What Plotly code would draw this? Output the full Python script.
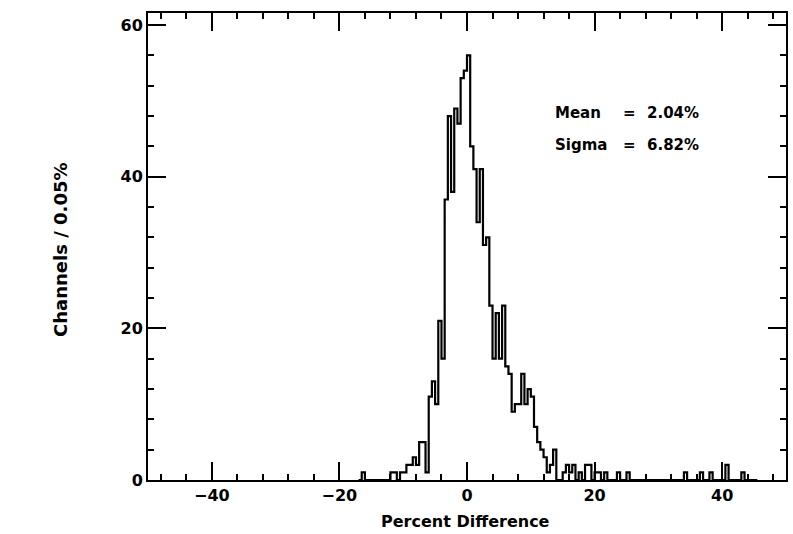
import numpy as np
import plotly.graph_objects as go

# ---------------- data ----------------
bin_width = 0.5
core_start = -12.0  # left edge of first core bin
core_counts = [1, 1, 0, 1, 1, 2, 2, 3, 2, 5, 5, 1, 11, 13, 10, 21, 16, 37, 48, 38,
               49, 47, 53, 54, 56, 44, 41, 34, 41, 31, 32, 23, 16, 22, 16, 23, 15, 14,
               9, 10, 10, 14, 10, 12, 11, 7, 5, 4, 3, 1, 2, 4]
tail_edges = [-16.5, 15.0, 15.5, 16.0, 16.5, 17.5, 18.5, 19.0, 20.0, 20.5, 21.5,
              23.5, 25.0, 34.0, 36.5, 38.0, 40.5, 43.0]
tail_counts = [1, 1, 2, 1, 2, 1, 2, 2, 1, 1, 1, 1, 1, 1, 1, 1, 2, 1]

x_range = [-50, 50]
y_range = [0, 61.6]
stat_names = ["Mean", "Sigma"]
stat_values = ["2.04%", "6.82%"]
x_title = "Percent Difference"
y_title = "Channels / 0.05%"

# ---------------- build histogram outline ----------------
edges = np.round(np.arange(-17.0, 45.0 + 1e-9, bin_width), 3)
counts = np.zeros(len(edges))
for i, c in enumerate(core_counts):
    counts[np.argmin(np.abs(edges - (core_start + i * bin_width)))] = c
for e, c in zip(tail_edges, tail_counts):
    counts[np.argmin(np.abs(edges - e))] = c
xs = list(edges) + [edges[-1] + bin_width]
ys = list(counts) + [counts[-1]]

fig = go.Figure()
fig.add_trace(go.Scatter(x=xs, y=ys, mode="lines",
                         line=dict(shape="hv", color="black", width=2.2),
                         hoverinfo="skip", showlegend=False))

axis_common = dict(
    ticks="inside", ticklen=18, tickwidth=1.5, tickcolor="black",
    showline=True, linecolor="black", linewidth=2, mirror="ticks",
    showgrid=False, zeroline=False,
    tickfont=dict(family="DejaVu Sans", size=16, color="black", weight="bold"),
)
fig.update_xaxes(range=x_range, tickmode="linear", tick0=0, dtick=20,
                 minor=dict(tick0=0, dtick=4, ticks="inside", ticklen=6,
                            tickwidth=1.5, tickcolor="black", showgrid=False),
                 **axis_common)
fig.update_yaxes(range=y_range, tickmode="linear", tick0=0, dtick=20,
                 minor=dict(tick0=0, dtick=4, ticks="inside", ticklen=6,
                            tickwidth=1.5, tickcolor="black", showgrid=False),
                 **axis_common)

ann_font = dict(family="DejaVu Sans", size=15, color="black", weight="bold")
annotations = [
    dict(text=x_title, xref="paper", yref="paper", x=0.498, y=-0.088,
         xanchor="center", yanchor="middle", showarrow=False,
         font=dict(family="DejaVu Sans", size=16, color="black", weight="bold")),
    dict(text=y_title, xref="paper", yref="paper", x=-0.138, y=0.4925,
         xanchor="center", yanchor="middle", showarrow=False, textangle=-90,
         font=dict(family="DejaVu Sans", size=18, color="black", weight="bold")),
]
for name, val, yv in zip(stat_names, stat_values, [48.4, 44.2]):
    annotations.append(dict(text=name, x=13.5, y=yv, xref="x", yref="y",
                            xanchor="left", yanchor="middle", showarrow=False, font=ann_font))
    annotations.append(dict(text="=", x=25.5, y=yv, xref="x", yref="y",
                            xanchor="center", yanchor="middle", showarrow=False, font=ann_font))
    annotations.append(dict(text=val, x=27.9, y=yv, xref="x", yref="y",
                            xanchor="left", yanchor="middle", showarrow=False, font=ann_font))

fig.update_layout(
    width=793, height=534,
    margin=dict(l=148, r=7, t=13, b=54, autoexpand=False),
    plot_bgcolor="white", paper_bgcolor="white",
    showlegend=False, annotations=annotations,
)

fig.write_html("out.html")
